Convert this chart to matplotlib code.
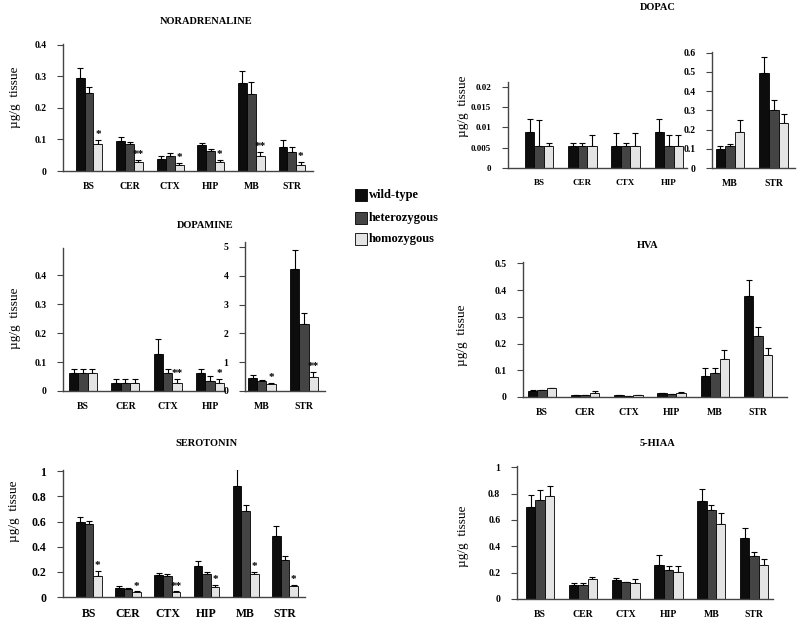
import numpy as np
import matplotlib
matplotlib.use("Agg")
import matplotlib.pyplot as plt
from matplotlib.patches import Rectangle

plt.rcParams['font.family'] = ['Liberation Serif', 'DejaVu Serif']

W, H = 800, 623

# ---- data (ug/g tissue) ----
regions = ['BS', 'CER', 'CTX', 'HIP', 'MB', 'STR']

na_wt = [0.294, 0.095, 0.038, 0.081, 0.280, 0.076]
na_het = [0.249, 0.086, 0.049, 0.064, 0.245, 0.059]
na_hom = [0.086, 0.030, 0.018, 0.030, 0.047, 0.020]
na_wt_err = [0.034, 0.013, 0.009, 0.008, 0.038, 0.023]
na_het_err = [0.016, 0.006, 0.007, 0.005, 0.037, 0.018]
na_hom_err = [0.013, 0.006, 0.007, 0.005, 0.013, 0.009]
na_sig = ['*', '**', '*', '*', '**', '*']

dopac_wt = [0.0088, 0.0055, 0.0055, 0.0088, 0.101, 0.492]
dopac_het = [0.0055, 0.0055, 0.0055, 0.0055, 0.115, 0.301]
dopac_hom = [0.0055, 0.0055, 0.0055, 0.0055, 0.188, 0.235]
dopac_wt_err = [0.0032, 0.0007, 0.0032, 0.0032, 0.012, 0.087]
dopac_het_err = [0.0064, 0.0007, 0.0007, 0.0026, 0.012, 0.052]
dopac_hom_err = [0.0007, 0.0026, 0.0032, 0.0026, 0.061, 0.048]

da_wt = [0.063, 0.026, 0.128, 0.063, 0.45, 4.25]
da_het = [0.063, 0.026, 0.063, 0.035, 0.34, 2.34]
da_hom = [0.063, 0.026, 0.026, 0.026, 0.23, 0.49]
da_wt_err = [0.012, 0.015, 0.053, 0.012, 0.10, 0.64]
da_het_err = [0.012, 0.015, 0.012, 0.016, 0.05, 0.35]
da_hom_err = [0.012, 0.015, 0.015, 0.015, 0.05, 0.17]
da_sig = ['', '', '**', '*', '*', '**']

hva_wt = [0.023, 0.006, 0.008, 0.014, 0.079, 0.376]
hva_het = [0.025, 0.008, 0.003, 0.010, 0.088, 0.229]
hva_hom = [0.033, 0.015, 0.006, 0.015, 0.141, 0.156]
hva_wt_err = [0.002, 0.001, 0.001, 0.002, 0.028, 0.061]
hva_het_err = [0.002, 0.001, 0.001, 0.002, 0.021, 0.031]
hva_hom_err = [0.002, 0.008, 0.001, 0.004, 0.035, 0.029]

ser_wt = [0.595, 0.074, 0.174, 0.243, 0.880, 0.483]
ser_het = [0.580, 0.066, 0.169, 0.185, 0.680, 0.296]
ser_hom = [0.169, 0.037, 0.037, 0.079, 0.179, 0.090]
ser_wt_err = [0.042, 0.013, 0.013, 0.042, 0.136, 0.081]
ser_het_err = [0.027, 0.005, 0.013, 0.013, 0.053, 0.031]
ser_hom_err = [0.037, 0.008, 0.008, 0.016, 0.021, 0.008]
ser_sig = ['*', '*', '**', '*', '*', '*']

hiaa_wt = [0.697, 0.106, 0.141, 0.255, 0.745, 0.460]
hiaa_het = [0.755, 0.104, 0.126, 0.222, 0.677, 0.323]
hiaa_hom = [0.783, 0.154, 0.121, 0.205, 0.571, 0.255]
hiaa_wt_err = [0.091, 0.013, 0.021, 0.081, 0.088, 0.078]
hiaa_het_err = [0.073, 0.017, 0.004, 0.025, 0.038, 0.036]
hiaa_hom_err = [0.078, 0.015, 0.028, 0.048, 0.083, 0.045]

genotypes = ['wild-type', 'heterozygous', 'homozygous']
colors = ['#0d0d0d', '#444444', '#e4e4e4']

fig = plt.figure(figsize=(W / 100, H / 100), dpi=100)


def make_ax(x0, x1, yzero, ytop):
    return fig.add_axes([x0 / W, 1 - yzero / H, (x1 - x0) / W, (yzero - ytop) / H])


def draw(ax, idx, wt, het, hom, errs, xlim, ylim, yticks, ylabels, sig=None, fs=7):
    x = np.arange(len(idx))
    bw = 0.22
    series = [wt, het, hom]
    for k in range(3):
        vals = np.array(series[k])[idx]
        e = np.array(errs[k])[idx]
        xs = x + (k - 1) * bw
        ax.bar(xs, vals, bw, color=colors[k], edgecolor='black', linewidth=0.6, zorder=2)
        ax.errorbar(xs, vals, yerr=[np.zeros_like(e), e], fmt='none', ecolor='black',
                    elinewidth=0.8, capsize=2.5, capthick=0.8, zorder=1)
        if k == 2 and sig is not None:
            for j, i in enumerate(idx):
                if sig[i]:
                    ax.text(xs[j], vals[j] + e[j] + ylim[1] * 0.005, sig[i], ha='center',
                            va='bottom', fontsize=8, fontweight='bold')
    ax.set_xlim(*xlim)
    ax.set_ylim(*ylim)
    ax.set_xticks(x)
    ax.set_xticklabels([regions[i] for i in idx], fontsize=fs, fontweight='bold')
    ax.set_yticks(yticks)
    ax.set_yticklabels(ylabels, fontsize=fs, fontweight='bold')
    ax.tick_params(axis='x', length=0, pad=8)
    ax.tick_params(axis='y', length=4, width=0.8, color='#444444', pad=8)
    for s in ['top', 'right']:
        ax.spines[s].set_visible(False)
    for s in ['left', 'bottom']:
        ax.spines[s].set_color('#444444')
        ax.spines[s].set_linewidth(1.0)
    ax.patch.set_alpha(0)


all6 = [0, 1, 2, 3, 4, 5]

# NORADRENALINE
ax = make_ax(63, 313, 171, 44)
draw(ax, all6, na_wt, na_het, na_hom, [na_wt_err, na_het_err, na_hom_err],
     (-0.64, 5.52), (0, 0.403), [0, 0.1, 0.2, 0.3, 0.4], ['0', '0.1', '0.2', '0.3', '0.4'], na_sig)

# DOPAC
dopac_err = [dopac_wt_err, dopac_het_err, dopac_hom_err]
ax = make_ax(508, 687, 168, 82)
draw(ax, [0, 1, 2, 3], dopac_wt, dopac_het, dopac_hom, dopac_err,
     (-0.72, 3.42), (0, 0.0212), [0, 0.005, 0.01, 0.015, 0.02],
     ['0', '0.005', '0.01', '0.015', '0.02'], fs=6.5)
ax = make_ax(712, 795, 168, 52)
draw(ax, [4, 5], dopac_wt, dopac_het, dopac_hom, dopac_err,
     (-0.41, 1.48), (0, 0.603), [0, 0.1, 0.2, 0.3, 0.4, 0.5, 0.6],
     ['0', '0.1', '0.2', '0.3', '0.4', '0.5', '0.6'])

# DOPAMINE
da_err = [da_wt_err, da_het_err, da_hom_err]
ax = make_ax(63, 225, 391, 248)
draw(ax, [0, 1, 2, 3], da_wt, da_het, da_hom, da_err,
     (-0.47, 3.35), (0, 0.495), [0, 0.1, 0.2, 0.3, 0.4], ['0', '0.1', '0.2', '0.3', '0.4'], da_sig)
ax = make_ax(245, 325, 391, 242)
draw(ax, [4, 5], da_wt, da_het, da_hom, da_err,
     (-0.4, 1.5), (0, 5.17), [0, 1, 2, 3, 4, 5], ['0', '1', '2', '3', '4', '5'], da_sig)

# HVA
ax = make_ax(523, 787, 397, 262)
draw(ax, all6, hva_wt, hva_het, hva_hom, [hva_wt_err, hva_het_err, hva_hom_err],
     (-0.44, 5.67), (0, 0.505), [0, 0.1, 0.2, 0.3, 0.4, 0.5],
     ['0', '0.1', '0.2', '0.3', '0.4', '0.5'])

# SEROTONIN
ax = make_ax(63, 305, 597, 470)
draw(ax, all6, ser_wt, ser_het, ser_hom, [ser_wt_err, ser_het_err, ser_hom_err],
     (-0.66, 5.51), (0, 1.01), [0, 0.2, 0.4, 0.6, 0.8, 1.0],
     ['0', '0.2', '0.4', '0.6', '0.8', '1'], ser_sig, fs=8.5)

# 5-HIAA
ax = make_ax(517, 773, 599, 466)
draw(ax, all6, hiaa_wt, hiaa_het, hiaa_hom, [hiaa_wt_err, hiaa_het_err, hiaa_hom_err],
     (-0.54, 5.44), (0, 1.01), [0, 0.2, 0.4, 0.6, 0.8, 1.0],
     ['0', '0.2', '0.4', '0.6', '0.8', '1'])

# titles
titles = [('NORADRENALINE', 206, 22), ('DOPAC', 658, 8), ('DOPAMINE', 205, 225),
          ('HVA', 648, 246), ('SEROTONIN', 207, 443), ('5-HIAA', 657, 443)]
for t, px, py in titles:
    fig.text(px / W, 1 - py / H, t, ha='center', va='center', fontsize=7.5, fontweight='bold')

# y labels
for px, py in [(15, 97), (15, 318), (14, 511), (463, 106), (462, 335), (463, 536)]:
    fig.text(px / W, 1 - py / H, '\u00b5g/g  tissue', rotation=90, ha='center', va='center',
             fontsize=9.5)

# legend
for k, (name, py) in enumerate(zip(genotypes, [195, 218, 239])):
    fig.patches.append(Rectangle((355 / W, 1 - (py + 6) / H), 12 / W, 12 / H,
                                 transform=fig.transFigure, facecolor=colors[k],
                                 edgecolor='black', linewidth=0.6))
    fig.text(369 / W, 1 - py / H, name, ha='left', va='center', fontsize=9, fontweight='bold')

fig.savefig('out.png', dpi=100)
